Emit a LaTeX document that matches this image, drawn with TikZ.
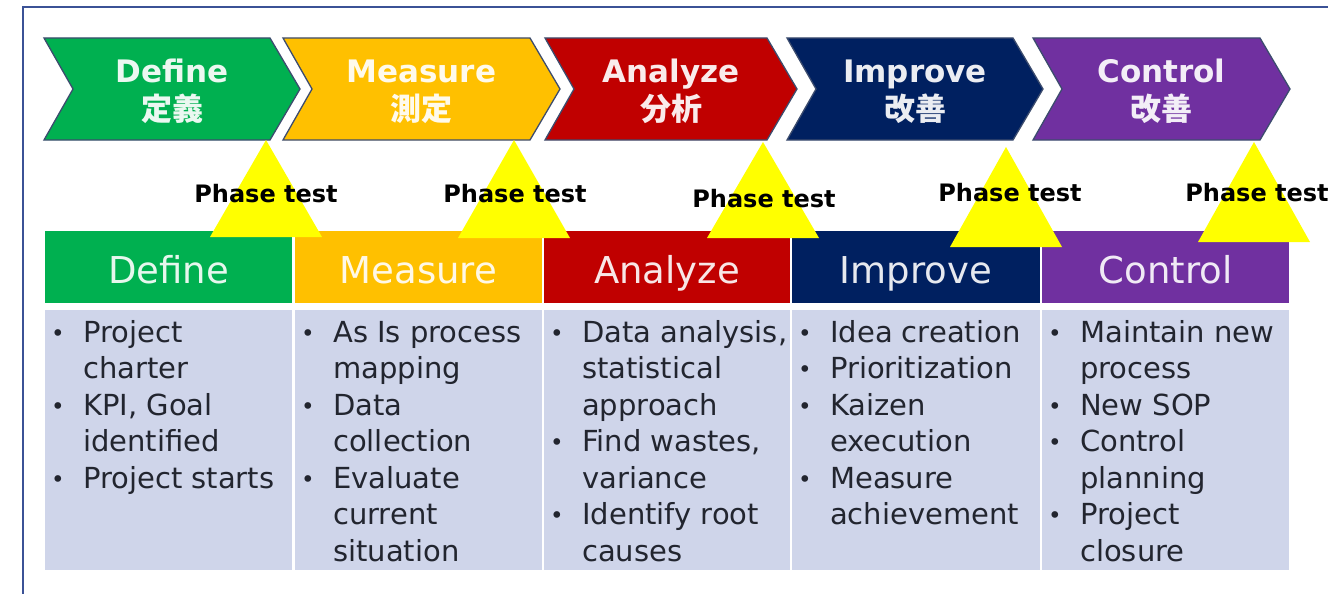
\documentclass[tikz,border=0pt]{standalone}
\usepackage{fontspec}
\setmainfont{DejaVu Sans}
\newfontfamily\cjk{Noto Sans CJK JP}
\definecolor{cgreen}{HTML}{00B050}
\definecolor{cyellow}{HTML}{FFC000}
\definecolor{cred}{HTML}{C00000}
\definecolor{cnavy}{HTML}{002060}
\definecolor{cpurple}{HTML}{7030A0}
\definecolor{bodybg}{HTML}{CFD5EA}
\definecolor{framec}{HTML}{3B5296}
\definecolor{outl}{HTML}{3C4C6E}
\definecolor{btext}{HTML}{22252F}
\definecolor{ptest}{HTML}{FFFF00}
\begin{document}
\begin{tikzpicture}[x=1pt,y=-1pt,
  chev/.style={draw=outl, line width=1.3pt, line join=miter},
  chevtxt/.style={font=\fontsize{31}{31}\selectfont\bfseries, text=white, text opacity=.92, inner sep=0, anchor=base},
  chevjp/.style={font=\cjk\bfseries\fontsize{31}{31}\selectfont, text=white, text opacity=.92, inner sep=0, anchor=base},
  hdrtxt/.style={font=\fontsize{37}{37}\selectfont, text=white, text opacity=.9, inner sep=0, anchor=base},
  ptri/.style={fill=ptest},
  pttxt/.style={font=\fontsize{24}{24}\selectfont\bfseries, text=black, inner sep=0, anchor=base},
  bodytxt/.style={font=\fontsize{29}{29}\selectfont, text=btext, inner sep=0, anchor=base west},
  bul/.style={font=\fontsize{23}{23}\selectfont, text=btext, inner sep=0, anchor=base},
]
\useasboundingbox (0,0) rectangle (1328,594);
\fill[white] (0,0) rectangle (1328,594);
% frame
\draw[framec, line width=2.5pt] (23,594) -- (23,7) -- (1328,7);

% chevrons
\foreach \l/\r/\c/\en/\jp/\nm in {44/300/cgreen/Define/定義/d, 283/560/cyellow/Measure/測定/m, 545/797/cred/Analyze/分析/a, 787/1043/cnavy/Improve/改善/i, 1033/1290/cpurple/Control/改善/c}{
  \draw[chev, fill=\c] (\l,38) -- ({\r-30},38) -- (\r,89) -- ({\r-30},140) -- (\l,140) -- ({\l+29},89) -- cycle;
  \node[chevtxt] (ce\nm) at ({(\l+\r)/2},82) {\en};
  \node[chevjp] (cj\nm) at ({(\l+\r)/2},121) {\jp};
}

% header and body cells
\foreach \l/\r/\c/\en/\nm in {45/292/cgreen/Define/d, 295/542/cyellow/Measure/m, 544/790/cred/Analyze/a, 792/1040/cnavy/Improve/i, 1042/1289/cpurple/Control/c}{
  \fill[\c] (\l,231) rectangle (\r,303);
  \fill[bodybg] (\l,310) rectangle (\r,570);
  \node[hdrtxt] (h\nm) at ({(\l+\r)/2},283) {\en};
}

% phase test triangles
\foreach \ax/\ay/\by/\tx/\ty [count=\i] in {266/140/237/266/202, 514/140/238/515/202, 763/142/238/764/207, 1006/147/247/1010/201, 1254/142/242/1257/201}{
  \fill[ptri] (\ax,\ay) -- ({\ax-56},\by) -- ({\ax+56},\by) -- cycle;
  \node[pttxt] (pt\i) at (\tx,\ty) {Phase test};
}

% body text
\foreach \t/\b [count=\i] in {{Project}/1, {charter}/0, {KPI, Goal}/1, {identified}/0, {Project starts}/1}{
  \node[bodytxt] (dl\i) at (83,{342+36.5*(\i-1)}) {\t};
  \ifnum\b=1 \node[bul] (db\i) at (58,{341+36.5*(\i-1)}) {•};\fi
}
\foreach \t/\b [count=\i] in {{As Is process}/1, {mapping}/0, {Data}/1, {collection}/0, {Evaluate}/1, {current}/0, {situation}/0}{
  \node[bodytxt] (ml\i) at (333,{342+36.5*(\i-1)}) {\t};
  \ifnum\b=1 \node[bul] (mb\i) at (308,{341+36.5*(\i-1)}) {•};\fi
}
\foreach \t/\b [count=\i] in {{Data analysis,}/1, {statistical}/0, {approach}/0, {Find wastes,}/1, {variance}/0, {Identify root}/1, {causes}/0}{
  \node[bodytxt] (al\i) at (582,{342+36.5*(\i-1)}) {\t};
  \ifnum\b=1 \node[bul] (ab\i) at (557,{341+36.5*(\i-1)}) {•};\fi
}
\foreach \t/\b [count=\i] in {{Idea creation}/1, {Prioritization}/1, {Kaizen}/1, {execution}/0, {Measure}/1, {achievement}/0}{
  \node[bodytxt] (il\i) at (830,{342+36.5*(\i-1)}) {\t};
  \ifnum\b=1 \node[bul] (ib\i) at (805,{341+36.5*(\i-1)}) {•};\fi
}
\foreach \t/\b [count=\i] in {{Maintain new}/1, {process}/0, {New SOP}/1, {Control}/1, {planning}/0, {Project}/1, {closure}/0}{
  \node[bodytxt] (kl\i) at (1080,{342+36.5*(\i-1)}) {\t};
  \ifnum\b=1 \node[bul] (kb\i) at (1055,{341+36.5*(\i-1)}) {•};\fi
}
\end{tikzpicture}
\end{document}
